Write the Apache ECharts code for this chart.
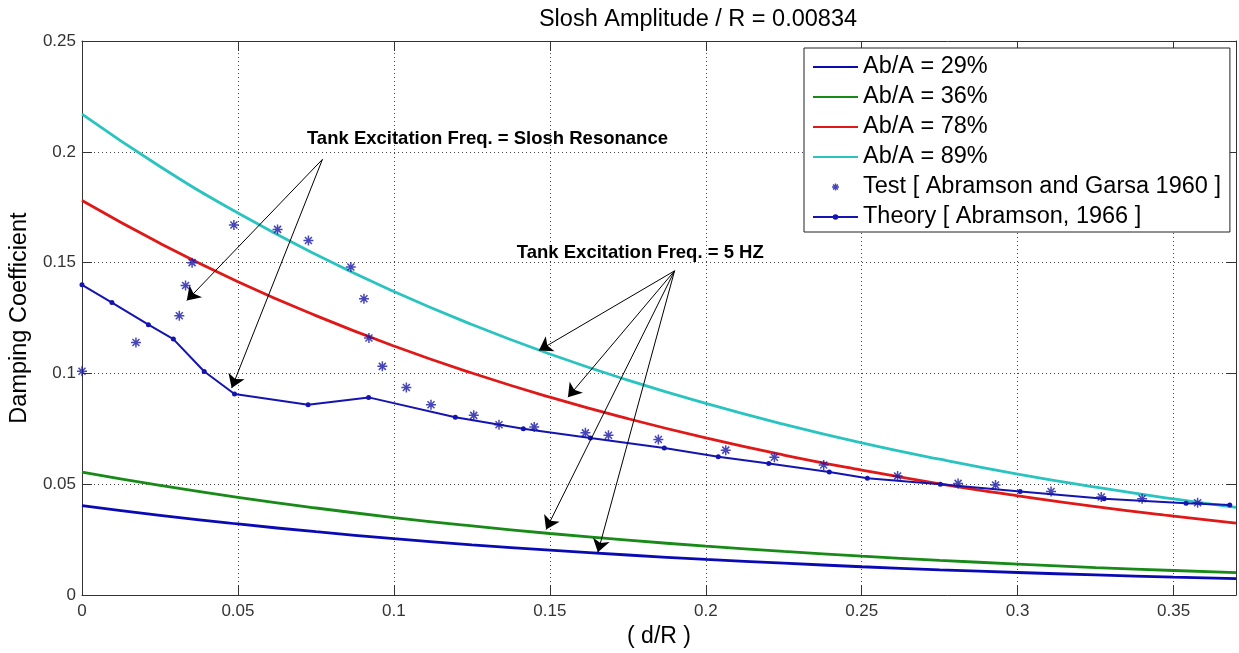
<!DOCTYPE html>
<html>
<head>
<meta charset="utf-8">
<script src="https://cdn.jsdelivr.net/npm/echarts@6/dist/echarts.min.js"></script>
<style>html,body{margin:0;padding:0;background:#fff}#c{width:1239px;height:653px}</style>
</head>
<body>
<div id="c"></div>
<script>
// ---- data ----
const curveX   = [0, 0.025, 0.05, 0.075, 0.1, 0.125, 0.15, 0.175, 0.2, 0.225, 0.25, 0.275, 0.3, 0.325, 0.35, 0.37];
const ab29     = [0.0404, 0.0360, 0.0321, 0.0286, 0.0255, 0.0227, 0.0203, 0.0181, 0.0161, 0.0144, 0.0128, 0.0114, 0.0102, 0.0091, 0.0081, 0.0074];
const ab36     = [0.0555, 0.0495, 0.0441, 0.0393, 0.0350, 0.0312, 0.0278, 0.0248, 0.0221, 0.0197, 0.0176, 0.0157, 0.0140, 0.0124, 0.0111, 0.0101];
const ab78     = [0.178, 0.1587, 0.1414, 0.1261, 0.1124, 0.1002, 0.0893, 0.0796, 0.0709, 0.0632, 0.0564, 0.0502, 0.0448, 0.0399, 0.0356, 0.0325];
const ab89     = [0.217, 0.1934, 0.1724, 0.1537, 0.1370, 0.1221, 0.1088, 0.0970, 0.0865, 0.0771, 0.0687, 0.0613, 0.0546, 0.0487, 0.0434, 0.0396];
const testX    = [0, 0.0173, 0.0312, 0.0332, 0.0353, 0.0487, 0.0627, 0.0726, 0.0862, 0.0904, 0.092, 0.0963, 0.104, 0.1119, 0.1256, 0.1337, 0.145, 0.1614, 0.1688, 0.1848, 0.2064, 0.222, 0.2378, 0.2615, 0.2809, 0.2929, 0.3107, 0.3268, 0.3399, 0.3577];
const testY    = [0.101, 0.114, 0.126, 0.1397, 0.150, 0.167, 0.165, 0.160, 0.148, 0.1337, 0.116, 0.1032, 0.0937, 0.0859, 0.0811, 0.0769, 0.0759, 0.0732, 0.0721, 0.0702, 0.0654, 0.0622, 0.0587, 0.0537, 0.0504, 0.0497, 0.0467, 0.0443, 0.0435, 0.0417];
const theoryX  = [0, 0.0096, 0.0213, 0.0293, 0.0392, 0.0489, 0.0725, 0.0919, 0.1197, 0.1415, 0.163, 0.1867, 0.204, 0.2202, 0.2396, 0.2518, 0.2752, 0.3008, 0.3277, 0.354, 0.368];
const theoryY  = [0.140, 0.132, 0.122, 0.1155, 0.1009, 0.0907, 0.0859, 0.0892, 0.0802, 0.0751, 0.0709, 0.0664, 0.0624, 0.0594, 0.0555, 0.0527, 0.0500, 0.0467, 0.0435, 0.0414, 0.0406];
const seriesNames = ['Ab/A = 29%', 'Ab/A = 36%', 'Ab/A = 78%', 'Ab/A = 89%', 'Test [ Abramson and Garsa 1960 ]', 'Theory [ Abramson, 1966 ]'];
const noteResonance = {text: 'Tank Excitation Freq. = Slosh Resonance', at: [0.130, 0.206], from: [0.0771, 0.1966], to: [[0.0336, 0.1329], [0.048, 0.0934]]};
const note5Hz       = {text: 'Tank Excitation Freq. = 5 HZ', at: [0.179, 0.1544], from: [0.190, 0.1463], to: [[0.1465, 0.1104], [0.1558, 0.0893], [0.1488, 0.0296], [0.1654, 0.0193]]};

const FONT = '"Liberation Sans", Arial, sans-serif';
const STAR = 'path://M0,-10L0,10M-10,0L10,0M-7,-7L7,7M-7,7L7,-7';
const STAR_COLOR = '#1818a6';
const zip = (xs, ys) => xs.map((x, i) => [x, ys[i]]);
const arrows = [];
[noteResonance, note5Hz].forEach(n => n.to.forEach(t => arrows.push([{coord: n.from}, {coord: t}])));

const tickAxisCommon = {
  axisLine: {show: true, onZero: false, lineStyle: {color: '#333', width: 1}},
  axisTick: {show: true, inside: true, length: 10, lineStyle: {color: '#333'}},
};

const legendData = seriesNames.map((n, i) => {
  if (i < 4) return {name: n, itemStyle: {opacity: 0}};
  if (i === 4) return {name: n, icon: STAR, itemStyle: {color: 'rgba(0,0,0,0)', borderColor: STAR_COLOR, borderWidth: 1.5}};
  return {name: n};
});

const chart = echarts.init(document.getElementById('c'), null, {renderer: 'canvas'});
const option = {
  animation: false,
  backgroundColor: '#fff',
  title: {
    text: 'Slosh Amplitude / R = 0.00834', left: 693, top: 3, textAlign: 'center',
    textStyle: {fontFamily: FONT, fontSize: 23.5, fontWeight: 'normal', color: '#000'}
  },
  grid: {left: 80, top: 41, right: 3, bottom: 55, containLabel: false},
  legend: {
    orient: 'vertical', left: 804, top: 48,
    data: legendData,
    itemWidth: 45, itemHeight: 7, itemGap: 6,
    padding: [7, 9, 3, 8],
    backgroundColor: '#fff', borderColor: '#222', borderWidth: 1, borderRadius: 0,
    textStyle: {fontFamily: FONT, fontSize: 23.5, color: '#000', lineHeight: 24}
  },
  xAxis: [{
    type: 'value', min: 0, max: 0.37, interval: 0.05,
    name: '( d/R )', nameLocation: 'middle', nameGap: 22,
    nameTextStyle: {fontFamily: FONT, fontSize: 23, color: '#000'},
    axisLabel: {fontFamily: FONT, fontSize: 17, color: '#333', margin: 8, showMaxLabel: false},
    splitLine: {show: true, lineStyle: {color: '#444', type: [1, 3], width: 1}},
    ...tickAxisCommon
  }, {
    type: 'value', position: 'top', min: 0, max: 0.37, interval: 0.05,
    axisLabel: {show: false}, splitLine: {show: false}, ...tickAxisCommon
  }],
  yAxis: [{
    type: 'value', min: 0, max: 0.25, interval: 0.05,
    name: 'Damping Coefficient', nameLocation: 'middle', nameGap: 40, nameRotate: 90,
    nameTextStyle: {fontFamily: FONT, fontSize: 23.5, color: '#000'},
    axisLabel: {fontFamily: FONT, fontSize: 17, color: '#333', margin: 6},
    splitLine: {show: true, lineStyle: {color: '#444', type: [1, 3], width: 1}},
    ...tickAxisCommon
  }, {
    type: 'value', position: 'right', min: 0, max: 0.25, interval: 0.05,
    axisLabel: {show: false}, splitLine: {show: false}, ...tickAxisCommon
  }],
  series: [
    {name: seriesNames[0], type: 'line', symbol: 'none', smooth: true, data: zip(curveX, ab29),
     lineStyle: {color: '#0a0ab4', width: 2.8}, itemStyle: {color: '#0a0ab4'}, z: 3},
    {name: seriesNames[1], type: 'line', symbol: 'none', smooth: true, data: zip(curveX, ab36),
     lineStyle: {color: '#178a17', width: 2.8}, itemStyle: {color: '#178a17'}, z: 3},
    {name: seriesNames[2], type: 'line', symbol: 'none', smooth: true, data: zip(curveX, ab78),
     lineStyle: {color: '#e01818', width: 2.8}, itemStyle: {color: '#e01818'}, z: 3},
    {name: seriesNames[3], type: 'line', symbol: 'none', smooth: true, data: zip(curveX, ab89),
     lineStyle: {color: '#2ac4c0', width: 2.8}, itemStyle: {color: '#2ac4c0'}, z: 3},
    {name: seriesNames[4], type: 'scatter', data: zip(testX, testY),
     symbol: STAR, symbolSize: 10,
     itemStyle: {color: 'rgba(0,0,0,0)', borderColor: STAR_COLOR, borderWidth: 1.5}, z: 5},
    {name: seriesNames[5], type: 'line', data: zip(theoryX, theoryY),
     symbol: 'circle', symbolSize: 5, showSymbol: true,
     lineStyle: {color: '#1414b0', width: 2}, itemStyle: {color: '#1414b0'}, z: 4}
  ]
};
// arrows for the annotations, drawn in data coordinates on a helper series
option.series.push({
  type: 'line', data: [], silent: true, z: 8,
  markLine: {
    silent: true, symbol: ['none', 'arrow'], symbolSize: 13, precision: 4,
    label: {show: false},
    lineStyle: {color: '#000', width: 1, type: 'solid'},
    itemStyle: {color: '#000'},
    emphasis: {disabled: true},
    data: arrows
  }
});
chart.setOption(option);

const noteText = n => {
  const p = chart.convertToPixel({xAxisIndex: 0, yAxisIndex: 0}, n.at);
  return {type: 'text', x: p[0], y: p[1], z: 10,
          style: {text: n.text, fontFamily: FONT, fontSize: 18.5, fontWeight: 'bold', fill: '#000',
                  align: 'center', verticalAlign: 'middle'}};
};
chart.setOption({graphic: [noteText(noteResonance), noteText(note5Hz)]});
</script>
</body>
</html>
